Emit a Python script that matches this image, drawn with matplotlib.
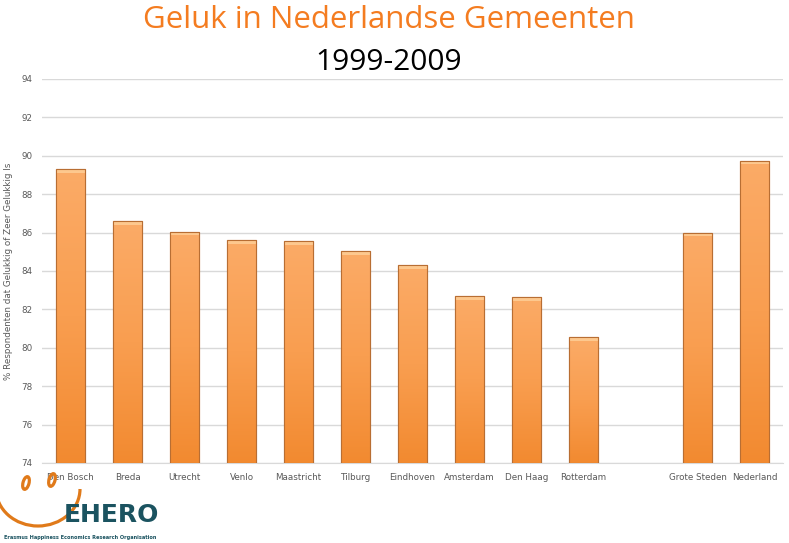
import matplotlib
matplotlib.use("Agg")
import matplotlib.pyplot as plt
import numpy as np
from matplotlib.patches import Arc, Ellipse

categories = ["Den Bosch", "Breda", "Utrecht", "Venlo", "Maastricht", "Tilburg",
              "Eindhoven", "Amsterdam", "Den Haag", "Rotterdam", "",
              "Grote Steden", "Nederland"]
values = [89.3, 86.6, 86.05, 85.6, 85.55, 85.05, 84.3, 82.7, 82.65, 80.55, None, 86.0, 89.75]
yticks = [74, 76, 78, 80, 82, 84, 86, 88, 90, 92, 94]

W, H = 789, 543
fig = plt.figure(figsize=(W / 100, H / 100), dpi=100)
ax = fig.add_axes([42 / W, 1 - 463 / H, (783 - 42) / W, (463 - 79) / H])

x = np.arange(len(categories))
xs = [i for i, v in zip(x, values) if v is not None]
vs = [v for v in values if v is not None]
bars = ax.bar(xs, [v - 74 for v in vs], bottom=74, width=0.5,
              color="#F89A47", edgecolor="#C9783A", linewidth=0.8, zorder=3)

grad = np.linspace(0, 1, 256).reshape(-1, 1)
cmap = matplotlib.colors.LinearSegmentedColormap.from_list(
    "o", ["#F28A30", "#F99E50", "#FBAB67"])
for b in bars:
    x0, y0 = b.get_x(), b.get_y()
    w, h = b.get_width(), b.get_height()
    im = ax.imshow(grad, extent=[x0, x0 + w, y0, y0 + h], origin="lower",
                   cmap=cmap, aspect="auto", zorder=3.5)
    im.set_clip_path(b)
    ax.add_patch(plt.Rectangle((x0, y0 + h - 0.2), w, 0.2, color="#FDC88E",
                               zorder=3.6, linewidth=0))
    ax.add_patch(plt.Rectangle((x0, y0), w, h, fill=False,
                               edgecolor="#B86E33", linewidth=0.8, zorder=3.7))

ax.set_xlim(-0.5, len(categories) - 0.5)
ax.set_ylim(74, 94)
ax.set_yticks(yticks)
ax.set_xticks(x)
ax.set_xticklabels(categories)
ax.tick_params(axis="both", length=0, labelsize=6.3, colors="#595959", pad=7)
ax.grid(axis="y", color="#D9D9D9", linewidth=1, zorder=0)
for s in ["top", "right", "left"]:
    ax.spines[s].set_visible(False)
ax.spines["bottom"].set_color("#D9D9D9")
ax.set_ylabel("% Respondenten dat Gelukkig of Zeer Gelukkig Is",
              fontsize=6.3, color="#595959")
ax.yaxis.set_label_coords(-29 / (783 - 42), 0.5)

fig.text(389 / W, 1 - 20 / H, "Geluk in Nederlandse Gemeenten", ha="center", va="center",
         fontsize=22.5, color="#F47C20", family="Open Sans")
fig.text(389 / W, 1 - 62 / H, "1999-2009", ha="center", va="center",
         fontsize=21.5, color="#000000", family="Open Sans")

# logo (data y = pixel y - 458)
lax = fig.add_axes([0, 0, 170 / W, 85 / H])
lax.set_xlim(0, 170)
lax.set_ylim(85, 0)
lax.axis("off")
lax.add_patch(Arc((38, 31), 84, 74, theta1=0, theta2=180, color="#E07A1A", linewidth=2.3))
lax.add_patch(Ellipse((26, 25), 6, 13, angle=15, fill=False, edgecolor="#E07A1A", linewidth=2.3))
lax.add_patch(Ellipse((52, 22), 6, 13, angle=15, fill=False, edgecolor="#E07A1A", linewidth=2.3))
lax.text(111, 57, "EHERO", ha="center", va="center", fontsize=18, fontweight="bold",
         color="#1B5360", family="DejaVu Sans")
lax.text(80, 79, "Erasmus Happiness Economics Research Organisation", ha="center",
         va="center", fontsize=3.6, fontweight="bold", color="#1B5360")

fig.savefig("out.png", dpi=100)
